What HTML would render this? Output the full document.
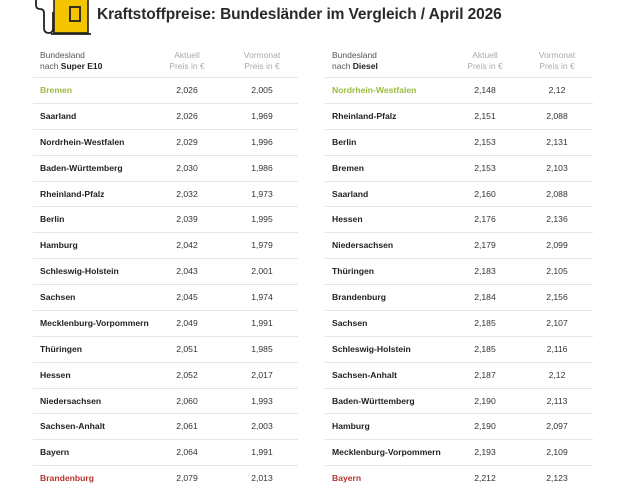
<!DOCTYPE html>
<html><head><meta charset="utf-8"><style>
body{margin:0;width:640px;height:480px;overflow:hidden;background:#fff;font-family:"Liberation Sans",sans-serif;color:#222;position:relative}
.title{position:absolute;left:97px;top:6px;font-size:15.5px;font-weight:bold;color:#2a2a2a;letter-spacing:-0.1px;white-space:nowrap}
.tbl{position:absolute;top:48px}
.hd{height:29px;position:relative;font-size:8.5px;color:#555;line-height:11px}
.hd .g{color:#aaa;position:absolute;text-align:center;width:70px;top:2px}
.hd .n{position:absolute;left:7px;top:2px}
.row{height:24.88px;border-top:1px solid #e6e6e6;position:relative;font-size:8.6px;line-height:24.88px}
.row .n{position:absolute;left:7px;font-weight:bold}
.row .a,.row .b{position:absolute;width:70px;text-align:center;color:#333}
.gr .n{color:#9bbb3f}.rd .n{color:#b8322b}
</style></head><body>
<svg style="position:absolute;left:0;top:0" width="100" height="40">
<path d="M36 0 L36 5 Q36 9 40 9 Q44 9 44 13 L44 28 Q44 33 49 33 Q53 33 53 28 L53 12" fill="none" stroke="#222" stroke-width="1.8"/>
<rect x="54" y="-2" width="34" height="35" fill="#f5c400" stroke="#222" stroke-width="1.6"/>
<rect x="70" y="7" width="10" height="14" fill="none" stroke="#222" stroke-width="1.8"/>
<line x1="51" y1="34" x2="91" y2="34" stroke="#222" stroke-width="1.8"/>
</svg>
<div class="title">Kraftstoffpreise: Bundesländer im Vergleich / April 2026</div>

<div class="tbl" style="left:33px;width:265px">
<div class="hd"><div class="n">Bundesland<br>nach <b style="color:#222">Super E10</b></div><div class="g" style="left:119px">Aktuell<br>Preis in €</div><div class="g" style="left:194px">Vormonat<br>Preis in €</div></div>
<div class="row gr"><span class="n">Bremen</span><span class="a" style="left:119px">2,026</span><span class="b" style="left:194px">2,005</span></div>
<div class="row"><span class="n">Saarland</span><span class="a" style="left:119px">2,026</span><span class="b" style="left:194px">1,969</span></div>
<div class="row"><span class="n">Nordrhein-Westfalen</span><span class="a" style="left:119px">2,029</span><span class="b" style="left:194px">1,996</span></div>
<div class="row"><span class="n">Baden-Württemberg</span><span class="a" style="left:119px">2,030</span><span class="b" style="left:194px">1,986</span></div>
<div class="row"><span class="n">Rheinland-Pfalz</span><span class="a" style="left:119px">2,032</span><span class="b" style="left:194px">1,973</span></div>
<div class="row"><span class="n">Berlin</span><span class="a" style="left:119px">2,039</span><span class="b" style="left:194px">1,995</span></div>
<div class="row"><span class="n">Hamburg</span><span class="a" style="left:119px">2,042</span><span class="b" style="left:194px">1,979</span></div>
<div class="row"><span class="n">Schleswig-Holstein</span><span class="a" style="left:119px">2,043</span><span class="b" style="left:194px">2,001</span></div>
<div class="row"><span class="n">Sachsen</span><span class="a" style="left:119px">2,045</span><span class="b" style="left:194px">1,974</span></div>
<div class="row"><span class="n">Mecklenburg-Vorpommern</span><span class="a" style="left:119px">2,049</span><span class="b" style="left:194px">1,991</span></div>
<div class="row"><span class="n">Thüringen</span><span class="a" style="left:119px">2,051</span><span class="b" style="left:194px">1,985</span></div>
<div class="row"><span class="n">Hessen</span><span class="a" style="left:119px">2,052</span><span class="b" style="left:194px">2,017</span></div>
<div class="row"><span class="n">Niedersachsen</span><span class="a" style="left:119px">2,060</span><span class="b" style="left:194px">1,993</span></div>
<div class="row"><span class="n">Sachsen-Anhalt</span><span class="a" style="left:119px">2,061</span><span class="b" style="left:194px">2,003</span></div>
<div class="row"><span class="n">Bayern</span><span class="a" style="left:119px">2,064</span><span class="b" style="left:194px">1,991</span></div>
<div class="row rd"><span class="n">Brandenburg</span><span class="a" style="left:119px">2,079</span><span class="b" style="left:194px">2,013</span></div>
</div>

<div class="tbl" style="left:325px;width:268px">
<div class="hd"><div class="n">Bundesland<br>nach <b style="color:#222">Diesel</b></div><div class="g" style="left:125px">Aktuell<br>Preis in €</div><div class="g" style="left:197px">Vormonat<br>Preis in €</div></div>
<div class="row gr"><span class="n">Nordrhein-Westfalen</span><span class="a" style="left:125px">2,148</span><span class="b" style="left:197px">2,12</span></div>
<div class="row"><span class="n">Rheinland-Pfalz</span><span class="a" style="left:125px">2,151</span><span class="b" style="left:197px">2,088</span></div>
<div class="row"><span class="n">Berlin</span><span class="a" style="left:125px">2,153</span><span class="b" style="left:197px">2,131</span></div>
<div class="row"><span class="n">Bremen</span><span class="a" style="left:125px">2,153</span><span class="b" style="left:197px">2,103</span></div>
<div class="row"><span class="n">Saarland</span><span class="a" style="left:125px">2,160</span><span class="b" style="left:197px">2,088</span></div>
<div class="row"><span class="n">Hessen</span><span class="a" style="left:125px">2,176</span><span class="b" style="left:197px">2,136</span></div>
<div class="row"><span class="n">Niedersachsen</span><span class="a" style="left:125px">2,179</span><span class="b" style="left:197px">2,099</span></div>
<div class="row"><span class="n">Thüringen</span><span class="a" style="left:125px">2,183</span><span class="b" style="left:197px">2,105</span></div>
<div class="row"><span class="n">Brandenburg</span><span class="a" style="left:125px">2,184</span><span class="b" style="left:197px">2,156</span></div>
<div class="row"><span class="n">Sachsen</span><span class="a" style="left:125px">2,185</span><span class="b" style="left:197px">2,107</span></div>
<div class="row"><span class="n">Schleswig-Holstein</span><span class="a" style="left:125px">2,185</span><span class="b" style="left:197px">2,116</span></div>
<div class="row"><span class="n">Sachsen-Anhalt</span><span class="a" style="left:125px">2,187</span><span class="b" style="left:197px">2,12</span></div>
<div class="row"><span class="n">Baden-Württemberg</span><span class="a" style="left:125px">2,190</span><span class="b" style="left:197px">2,113</span></div>
<div class="row"><span class="n">Hamburg</span><span class="a" style="left:125px">2,190</span><span class="b" style="left:197px">2,097</span></div>
<div class="row"><span class="n">Mecklenburg-Vorpommern</span><span class="a" style="left:125px">2,193</span><span class="b" style="left:197px">2,109</span></div>
<div class="row rd"><span class="n">Bayern</span><span class="a" style="left:125px">2,212</span><span class="b" style="left:197px">2,123</span></div>
</div>
</body></html>
